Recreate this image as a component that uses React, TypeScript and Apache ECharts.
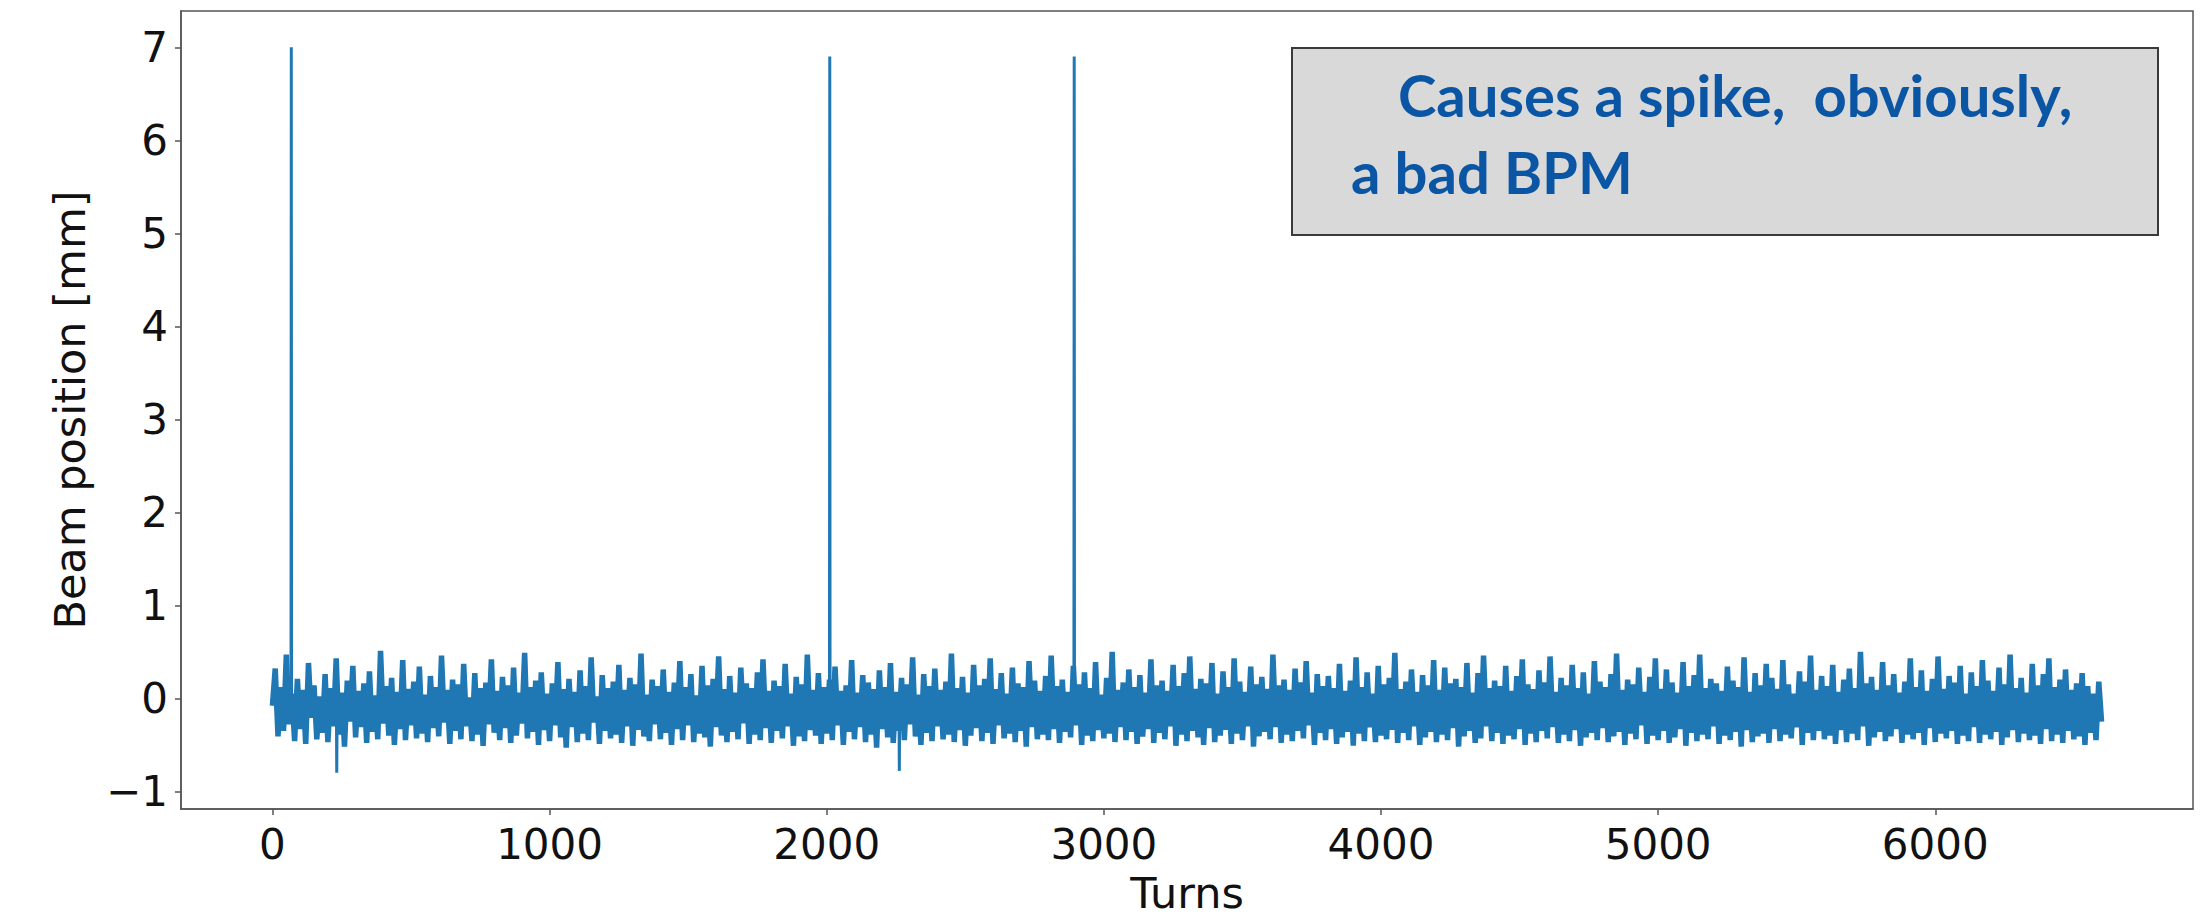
import React, { useEffect, useRef } from 'react';
import * as echarts from 'echarts';

// ---- data ----
const noiseStep = 10; // turns between noise samples
const noiseValues = [
  -0.08, 0.32, -0.41, 0.12, -0.35, 0.47, -0.28, 0.05, -0.46, 0.21, -0.33, 0.09, -0.49, 0.38, -0.21, 0.14, -0.44, 0.02, -0.37, 0.26,
  -0.47, 0.11, -0.30, 0.43, -0.39, 0.06, -0.52, 0.19, -0.25, 0.35, -0.42, 0.08, -0.31, 0.16, -0.48, 0.29, -0.36, 0.03, -0.44, 0.51,
  -0.27, 0.13, -0.40, 0.22, -0.50, 0.07, -0.33, 0.41, -0.45, 0.10, -0.29, 0.18, -0.43, 0.34, -0.38, 0.04, -0.47, 0.24, -0.32, 0.12,
  -0.41, 0.46, -0.26, 0.09, -0.49, 0.20, -0.35, 0.15, -0.44, 0.37, -0.30, 0.01, -0.46, 0.27, -0.39, 0.11, -0.51, 0.17, -0.28, 0.42,
  -0.37, 0.08, -0.45, 0.23, -0.32, 0.14, -0.48, 0.33, -0.40, 0.06, -0.27, 0.49, -0.43, 0.12, -0.36, 0.19, -0.50, 0.28, -0.34, 0.05,
  -0.46, 0.16, -0.29, 0.39, -0.42, 0.10, -0.53, 0.21, -0.31, 0.07, -0.47, 0.30, -0.38, 0.13, -0.45, 0.44, -0.26, 0.02, -0.49, 0.25,
  -0.35, 0.11, -0.43, 0.18, -0.39, 0.36, -0.48, 0.09, -0.30, 0.22, -0.51, 0.15, -0.34, 0.48, -0.41, 0.04, -0.46, 0.20, -0.28, 0.13,
  -0.44, 0.31, -0.37, 0.07, -0.50, 0.17, -0.33, 0.40, -0.45, 0.12, -0.29, 0.26, -0.47, 0.03, -0.38, 0.35, -0.42, 0.14, -0.52, 0.21,
  -0.31, 0.45, -0.40, 0.10, -0.47, 0.24, -0.36, 0.06, -0.44, 0.33, -0.27, 0.16, -0.49, 0.11, -0.39, 0.28, -0.45, 0.42, -0.32, 0.08,
  -0.48, 0.19, -0.35, 0.13, -0.43, 0.37, -0.30, 0.05, -0.51, 0.23, -0.41, 0.15, -0.46, 0.47, -0.34, 0.09, -0.40, 0.27, -0.49, 0.12,
  -0.38, 0.20, -0.45, 0.34, -0.29, 0.08, -0.50, 0.14, -0.36, 0.41, -0.44, 0.06, -0.31, 0.25, -0.47, 0.17, -0.39, 0.10, -0.53, 0.30,
  -0.33, 0.12, -0.42, 0.38, -0.48, 0.07, -0.35, 0.22, -0.45, 0.15, -0.28, 0.44, -0.41, 0.04, -0.50, 0.26, -0.37, 0.13, -0.46, 0.32,
  -0.30, 0.09, -0.44, 0.18, -0.39, 0.48, -0.47, 0.11, -0.34, 0.23, -0.51, 0.06, -0.40, 0.36, -0.32, 0.14, -0.46, 0.21, -0.37, 0.43,
  -0.49, 0.10, -0.29, 0.27, -0.43, 0.05, -0.38, 0.33, -0.47, 0.16, -0.35, 0.12, -0.52, 0.40, -0.31, 0.19, -0.44, 0.08, -0.39, 0.24,
  -0.45, 0.46, -0.33, 0.13, -0.48, 0.20, -0.36, 0.07, -0.42, 0.35, -0.29, 0.15, -0.50, 0.28, -0.40, 0.11, -0.46, 0.39, -0.34, 0.04,
  -0.43, 0.22, -0.38, 0.50, -0.47, 0.09, -0.31, 0.17, -0.45, 0.31, -0.36, 0.12, -0.49, 0.25, -0.41, 0.06, -0.33, 0.42, -0.48, 0.14,
  -0.37, 0.19, -0.44, 0.08, -0.30, 0.36, -0.51, 0.13, -0.39, 0.27, -0.46, 0.45, -0.35, 0.10, -0.42, 0.21, -0.50, 0.16, -0.32, 0.38,
  -0.47, 0.05, -0.40, 0.29, -0.34, 0.12, -0.49, 0.43, -0.38, 0.18, -0.45, 0.07, -0.30, 0.34, -0.52, 0.15, -0.41, 0.23, -0.36, 0.10,
  -0.44, 0.47, -0.31, 0.14, -0.48, 0.20, -0.39, 0.09, -0.46, 0.32, -0.35, 0.17, -0.43, 0.40, -0.29, 0.06, -0.50, 0.26, -0.37, 0.13,
  -0.45, 0.24, -0.33, 0.11, -0.49, 0.37, -0.42, 0.08, -0.36, 0.19, -0.51, 0.44, -0.38, 0.12, -0.46, 0.28, -0.31, 0.05, -0.47, 0.35,
  -0.40, 0.15, -0.44, 0.22, -0.34, 0.49, -0.48, 0.10, -0.37, 0.18, -0.45, 0.31, -0.30, 0.07, -0.50, 0.25, -0.42, 0.14, -0.36, 0.41,
  -0.47, 0.09, -0.39, 0.33, -0.45, 0.16, -0.32, 0.21, -0.52, 0.12, -0.41, 0.38, -0.35, 0.06, -0.48, 0.27, -0.43, 0.46, -0.30, 0.11,
  -0.46, 0.19, -0.37, 0.13, -0.49, 0.35, -0.40, 0.08, -0.44, 0.24, -0.33, 0.42, -0.50, 0.15, -0.38, 0.10, -0.47, 0.30, -0.35, 0.17,
  -0.43, 0.45, -0.31, 0.07, -0.48, 0.22, -0.39, 0.14, -0.46, 0.36, -0.34, 0.11, -0.51, 0.28, -0.42, 0.05, -0.37, 0.40, -0.45, 0.18,
  -0.32, 0.12, -0.47, 0.26, -0.41, 0.48, -0.36, 0.09, -0.50, 0.20, -0.38, 0.15, -0.44, 0.33, -0.29, 0.07, -0.49, 0.23, -0.40, 0.43,
  -0.45, 0.10, -0.35, 0.31, -0.48, 0.17, -0.42, 0.06, -0.33, 0.39, -0.51, 0.13, -0.37, 0.25, -0.46, 0.47, -0.39, 0.11, -0.44, 0.21,
  -0.30, 0.16, -0.49, 0.08, -0.40, 0.34, -0.45, 0.19, -0.36, 0.12, -0.52, 0.44, -0.34, 0.07, -0.47, 0.27, -0.41, 0.14, -0.38, 0.37,
  -0.48, 0.22, -0.33, 0.10, -0.46, 0.41, -0.39, 0.15, -0.43, 0.05, -0.31, 0.29, -0.50, 0.18, -0.37, 0.46, -0.45, 0.09, -0.35, 0.24,
  -0.44, 0.13, -0.40, 0.36, -0.49, 0.07, -0.34, 0.20, -0.47, 0.32, -0.38, 0.11, -0.45, 0.50, -0.30, 0.16, -0.51, 0.23, -0.42, 0.09,
  -0.36, 0.39, -0.46, 0.14, -0.41, 0.26, -0.33, 0.06, -0.48, 0.18, -0.39, 0.43, -0.44, 0.12, -0.37, 0.30, -0.50, 0.08, -0.32, 0.21,
  -0.47, 0.45, -0.38, 0.10, -0.43, 0.24, -0.35, 0.17, -0.49, 0.35, -0.40, 0.05, -0.46, 0.28, -0.31, 0.13, -0.48, 0.41, -0.39, 0.19,
  -0.44, 0.08, -0.36, 0.33, -0.50, 0.15, -0.42, 0.47, -0.34, 0.11, -0.47, 0.22, -0.38, 0.06, -0.45, 0.37, -0.40, 0.14, -0.49, 0.26,
  -0.33, 0.43, -0.46, 0.12, -0.39, 0.20, -0.48, 0.31, -0.35, 0.09, -0.44, 0.16, -0.41, 0.27, -0.50, 0.13, -0.37, 0.05, -0.45, 0.18,
  -0.25,
];

// bad-BPM spikes (turn, value): each spike with the sample before and after it
const spikeTurns = [67, 68, 69, 2010, 2011, 2012, 2892, 2893, 2894];
const spikeValues = [0.10, 7.0, -0.20, 0.05, 6.9, -0.15, 0.08, 6.9, -0.25];

// isolated deep dips (turn, value)
const dipTurns = [231, 232, 233, 2261, 2262, 2263];
const dipValues = [-0.20, -0.80, -0.30, -0.25, -0.78, -0.20];

const xTickValues = [0, 1000, 2000, 3000, 4000, 5000, 6000];
const yTickValues = [-1, 0, 1, 2, 3, 4, 5, 6, 7];
const xAxisTitle = 'Turns';
const yAxisTitle = 'Beam position [mm]';
const noteLines = ['Causes a spike,  obviously,', 'a bad BPM'];

export default function App() {
  const ref = useRef<HTMLDivElement>(null);

  useEffect(() => {
    if (!ref.current) return;
    const chart = echarts.init(ref.current, null, { renderer: 'svg' });

    // dense noise band
    const noisePts: [number, number][] = noiseValues.map((v, i) => [i * noiseStep, v]);

    // thin excursions (spikes and dips), each as its own 3-point stroke
    const excursionPts: any[] = [];
    const addTriples = (turns: number[], vals: number[]) => {
      for (let i = 0; i < turns.length; i += 3) {
        for (let k = 0; k < 3; k++) excursionPts.push([turns[i + k], vals[i + k]]);
        excursionPts.push([turns[i + 2] + 0.5, '-']);
      }
    };
    addTriples(spikeTurns, spikeValues);
    addTriples(dipTurns, dipValues);

    const axisFont = {
      fontFamily: 'DejaVu Sans',
      fontSize: 42,
      color: '#111',
    };
    const frame = '#555';
    const lineColor = '#1f77b4';

    chart.setOption({
      animation: false,
      backgroundColor: '#ffffff',
      grid: {
        left: 181,
        top: 11,
        right: 10,
        bottom: 111,
        show: true,
        borderColor: frame,
        borderWidth: 1.5,
        backgroundColor: 'transparent',
      },
      xAxis: {
        type: 'value',
        min: -330,
        max: 6930,
        name: xAxisTitle,
        nameLocation: 'middle',
        nameGap: 62,
        nameTextStyle: { ...axisFont, fontSize: 43 },
        axisLine: { show: true, onZero: false, lineStyle: { color: frame, width: 1.5 } },
        axisTick: { show: true, inside: false, length: 6, lineStyle: { color: frame, width: 1.5 }, customValues: xTickValues },
        axisLabel: {
          ...axisFont,
          margin: 14,
          customValues: xTickValues,
          formatter: (v: number) => String(v),
        },
        splitLine: { show: false },
      },
      yAxis: {
        type: 'value',
        min: -1.19,
        max: 7.39,
        name: yAxisTitle,
        nameLocation: 'middle',
        nameGap: 90,
        nameTextStyle: { ...axisFont, fontSize: 43 },
        axisLine: { show: true, onZero: false, lineStyle: { color: frame, width: 1.5 } },
        axisTick: { show: true, inside: false, length: 6, lineStyle: { color: frame, width: 1.5 }, customValues: yTickValues },
        axisLabel: {
          ...axisFont,
          margin: 13,
          customValues: yTickValues,
          formatter: (v: number) => (v < 0 ? '\u2212' + Math.abs(v) : String(v)),
        },
        splitLine: { show: false },
      },
      series: [
        {
          type: 'line',
          data: noisePts,
          showSymbol: false,
          symbol: 'none',
          silent: true,
          clip: true,
          lineStyle: { color: lineColor, width: 5.5, join: 'miter' },
        },
        {
          type: 'line',
          data: excursionPts,
          showSymbol: false,
          symbol: 'none',
          silent: true,
          clip: true,
          connectNulls: false,
          lineStyle: { color: lineColor, width: 3 },
        },
      ],
      graphic: [
        {
          type: 'rect',
          shape: { x: 1292, y: 48, width: 866, height: 187 },
          style: { fill: '#d9d9d9', stroke: '#3a3a3a', lineWidth: 2 },
          z: 10,
        },
        {
          type: 'text',
          x: 1398,
          y: 94,
          style: {
            text: noteLines[0],
            fontFamily: 'Lato',
            fontWeight: 'bold',
            fontSize: 58,
            fill: '#0a55a4',
            align: 'left',
            verticalAlign: 'middle',
          },
          z: 11,
        },
        {
          type: 'text',
          x: 1351,
          y: 171,
          style: {
            text: noteLines[1],
            fontFamily: 'Lato',
            fontWeight: 'bold',
            fontSize: 58,
            fill: '#0a55a4',
            align: 'left',
            verticalAlign: 'middle',
          },
          z: 11,
        },
      ],
    });

    return () => chart.dispose();
  }, []);

  return (
    <div
      ref={ref}
      style={{ position: 'absolute', left: 0, top: 0, width: 2203, height: 920, background: '#fff' }}
    />
  );
}
